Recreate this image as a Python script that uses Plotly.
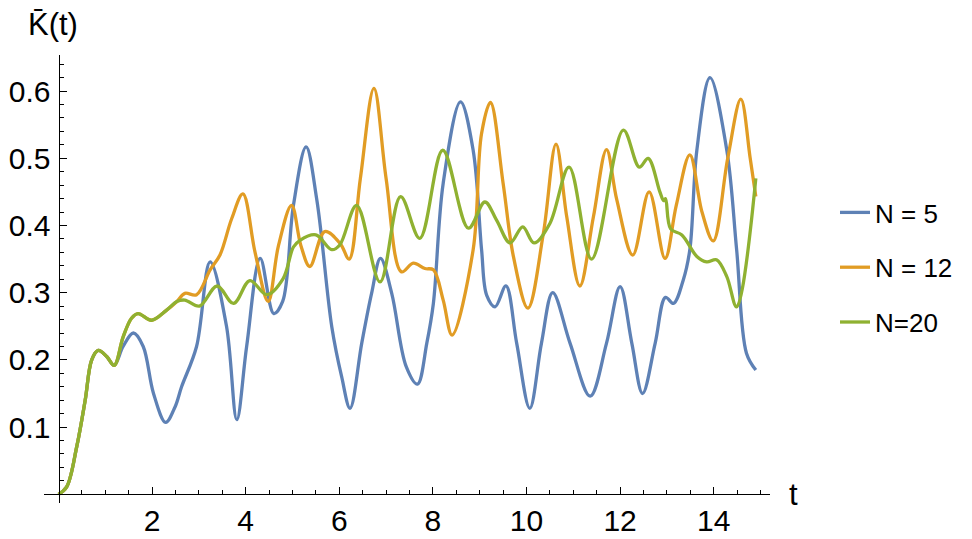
import plotly.graph_objects as go

# ---- data ----
t_n5 = [0, 0.175, 0.39, 0.57, 0.71, 0.85, 1.03, 1.19, 1.38, 1.6, 1.81, 2.03, 2.29, 2.49, 2.63,
        2.95, 3.24, 3.59, 3.81, 4.02, 4.31, 4.6, 4.79, 5.02, 5.29, 5.52, 5.84, 6.05, 6.23, 6.48,
        6.69, 6.88, 7.12, 7.43, 7.67, 7.87, 8.01, 8.22, 8.59, 8.86, 9.04, 9.15, 9.33, 9.56, 9.79,
        10.07, 10.32, 10.56, 10.93, 11.36, 11.71, 12.0, 12.25, 12.48, 12.75, 12.97, 13.14, 13.35,
        13.49, 13.64, 13.92, 14.28, 14.49, 14.7, 14.9]
k_n5 = [0, 0.011, 0.071, 0.14, 0.2, 0.214, 0.205, 0.192, 0.22, 0.24, 0.22, 0.15, 0.107, 0.13, 0.16,
        0.22, 0.346, 0.25, 0.111, 0.22, 0.351, 0.269, 0.287, 0.43, 0.517, 0.438, 0.249, 0.175, 0.128, 0.225,
        0.299, 0.351, 0.299, 0.19, 0.164, 0.225, 0.284, 0.463, 0.584, 0.512, 0.364, 0.296, 0.279, 0.31, 0.225,
        0.128, 0.225, 0.30, 0.225, 0.146, 0.225, 0.309, 0.225, 0.150, 0.225, 0.293, 0.284, 0.319,
        0.364, 0.512, 0.62, 0.512, 0.364, 0.21, 0.185]

t_n12 = [0, 0.175, 0.39, 0.57, 0.71, 0.85, 1.03, 1.19, 1.38, 1.56, 1.7, 1.99, 2.31, 2.53, 2.7, 2.95,
         3.24, 3.45, 3.7, 3.94, 4.2, 4.48, 4.7, 4.98, 5.18, 5.37, 5.69, 6.02, 6.21, 6.45, 6.74, 7.0,
         7.33, 7.58, 7.83, 8.01, 8.22, 8.41, 8.86, 9.04, 9.23, 9.5, 9.72, 10.03, 10.36, 10.63, 10.86,
         11.14, 11.43, 11.71, 11.93, 12.27, 12.62, 12.96, 13.2, 13.49, 13.75, 13.99, 14.3, 14.58,
         14.78, 14.9]
k_n12 = [0, 0.011, 0.071, 0.14, 0.2, 0.214, 0.205, 0.192, 0.234, 0.262, 0.269, 0.259, 0.274, 0.287, 0.299, 0.297,
         0.334, 0.356, 0.41, 0.447, 0.36, 0.287, 0.37, 0.43, 0.37, 0.339, 0.391, 0.373, 0.35, 0.47, 0.604, 0.47,
         0.331, 0.344, 0.336, 0.334, 0.289, 0.237, 0.364, 0.537, 0.583, 0.463, 0.354, 0.277, 0.388, 0.521, 0.413,
         0.31, 0.413, 0.513, 0.438, 0.356, 0.45, 0.351, 0.43, 0.505, 0.42, 0.377, 0.5, 0.588,
         0.5, 0.443]

t_n20 = [0, 0.175, 0.39, 0.57, 0.71, 0.85, 1.03, 1.19, 1.38, 1.56, 1.7, 1.99, 2.31, 2.53, 2.7, 3.01,
         3.39, 3.74, 4.09, 4.45, 4.8, 5.02, 5.16, 5.5, 5.84, 6.01, 6.37, 6.87, 7.31, 7.72, 8.21, 8.76,
         9.11, 9.36, 9.65, 9.92, 10.16, 10.5, 10.91, 11.39, 12.07, 12.41, 12.6, 12.85, 12.93, 12.97,
         13.08, 13.32, 13.64, 13.85, 14.06, 14.28, 14.49, 14.9]
k_n20 = [0, 0.011, 0.071, 0.14, 0.2, 0.214, 0.205, 0.192, 0.234, 0.262, 0.269, 0.259, 0.274, 0.287, 0.289, 0.28,
         0.31, 0.284, 0.318, 0.297, 0.321, 0.368, 0.378, 0.386, 0.364, 0.371, 0.43, 0.316, 0.443, 0.381, 0.512, 0.396,
         0.435, 0.408, 0.374, 0.398, 0.374, 0.403, 0.487, 0.35, 0.542, 0.487, 0.5, 0.45, 0.437, 0.44,
         0.395, 0.386, 0.354, 0.346, 0.349, 0.324, 0.279, 0.47]

series_names = ["N = 5", "N = 12", "N=20"]
x_ticks = [2, 4, 6, 8, 10, 12, 14]
y_ticks = [0.1, 0.2, 0.3, 0.4, 0.5, 0.6]
y_ticklabels = ["0.1", "0.2", "0.3", "0.4", "0.5", "0.6"]
x_minor = [i * 0.5 for i in range(1, 31)]
y_minor = [round(i * 0.02, 2) for i in range(1, 33)]

colors = ["#5E81B5", "#E19C24", "#8FB131"]
FONT = "Arial, 'Liberation Sans', sans-serif"

fig = go.Figure()
for i, (tx, ky) in enumerate([(t_n5, k_n5), (t_n12, k_n12), (t_n20, k_n20)]):
    fig.add_trace(go.Scatter(
        x=tx, y=ky, mode="lines", name=series_names[i],
        legendgroup=f"g{i}",
        line=dict(color=colors[i], width=3.3, shape="spline", smoothing=1.0),
    ))

# page body has an 8px margin: work in window pixels and shift into figure pixels
OFF = 8
W, H = 972 - OFF, 539 - OFF
left_px, right_px, top_px, bot_px = 44, 770, 55, 503          # plot area in window pixels
L, R, T, B = left_px - OFF, W - (right_px - OFF), top_px - OFF, H - (bot_px - OFF)
pw, ph = right_px - left_px, bot_px - top_px
x0_px, y0_px = 58.5, 494.3      # window pixels of the origin
sx, sy = 46.8, 672.0            # px per unit
xr = [-(x0_px - left_px) / sx, (right_px - x0_px) / sx]
yr = [-(bot_px - y0_px) / sy, (y0_px - top_px) / sy]


def px_x(p):
    return (p - left_px) / pw


def px_y(p):
    return (bot_px - p) / ph


fig.update_layout(
    width=W, height=H,
    margin=dict(l=L, r=R, t=T, b=B, autoexpand=False),
    paper_bgcolor="white", plot_bgcolor="white",
    font=dict(family=FONT, color="black"),
    showlegend=True,
    legend=dict(x=px_x(835), y=px_y(189), xanchor="left", yanchor="top",
                font=dict(size=26, family=FONT), tracegroupgap=18, bgcolor="rgba(0,0,0,0)"),
    xaxis=dict(range=xr, showgrid=False, zeroline=False, showline=True, linecolor="black",
               linewidth=1, anchor="free", position=px_y(y0_px),
               tickmode="array", tickvals=x_ticks, ticks="inside", ticklen=7, tickcolor="black",
               tickfont=dict(size=30, family=FONT),
               minor=dict(tickmode="array", tickvals=x_minor, ticks="inside", ticklen=4, tickcolor="black")),
    yaxis=dict(range=yr, showgrid=False, zeroline=False, showline=True, linecolor="black",
               linewidth=1, anchor="free", position=px_x(x0_px),
               tickmode="array", tickvals=y_ticks, ticktext=y_ticklabels, ticks="inside", ticklen=7,
               tickcolor="black", tickfont=dict(size=30, family=FONT), ticklabelstandoff=2,
               minor=dict(tickmode="array", tickvals=y_minor, ticks="inside", ticklen=4, tickcolor="black")),
    annotations=[
        dict(text="K\u0304(t)", xref="paper", yref="paper", x=px_x(53), y=px_y(25),
             xanchor="center", yanchor="middle", showarrow=False, font=dict(size=31, family=FONT)),
        dict(text="t", xref="paper", yref="paper", x=px_x(793), y=px_y(494),
             xanchor="center", yanchor="middle", showarrow=False, font=dict(size=31, family=FONT)),
    ],
)

fig.write_html("out.html")
